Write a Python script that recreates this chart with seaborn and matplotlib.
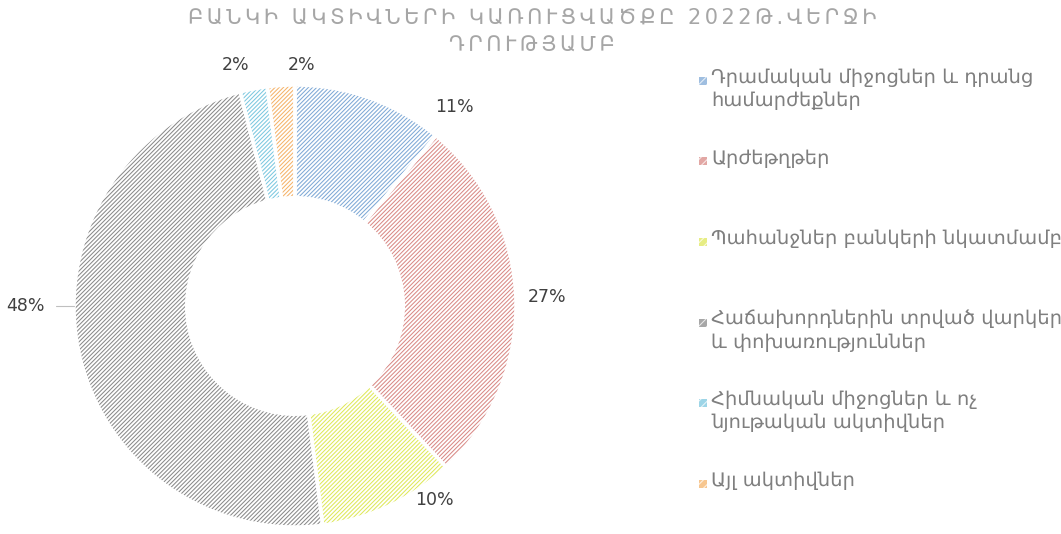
import matplotlib
matplotlib.use("Agg")
import matplotlib.pyplot as plt
import seaborn as sns
from matplotlib.patches import Rectangle

# Data
title = "ԲԱՆԿԻ ԱԿՏԻՎՆԵՐԻ ԿԱՌՈՒՑՎԱԾՔԸ 2022Թ.ՎԵՐՋԻ\nԴՐՈՒԹՅԱՄԲ"
categories = [
    "Դրամական միջոցներ և դրանց\nհամարժեքներ",
    "Արժեթղթեր",
    "Պահանջներ բանկերի նկատմամբ",
    "Հաճախորդներին տրված վարկեր\nև փոխառություններ",
    "Հիմնական միջոցներ և ոչ\nնյութական ակտիվներ",
    "Այլ ակտիվներ",
]
shares = [11, 27, 10, 48, 2, 2]
pct_labels = ["11%", "27%", "10%", "48%", "2%", "2%"]
colors = ["#7fa9d6", "#d98a86", "#dfe85a", "#8a8a8a", "#7cc8e0", "#f5b36a"]

sns.set_theme(style="white")
plt.rcParams["font.family"] = ["DejaVu Sans"]
plt.rcParams["hatch.linewidth"] = 0.75

fig = plt.figure(figsize=(10.61, 5.34), dpi=100)
W, H = 1061, 534

# pie centre / radius in pixels
cx, cy, R = 295, 306, 221
span = 1.35
side = 2 * span * R
ax = fig.add_axes([(cx - side / 2) / W, (H - cy - side / 2) / H, side / W, side / H])

wedges, _ = ax.pie(shares, startangle=90, counterclock=False, radius=1,
                   colors=colors, wedgeprops=dict(width=0.51, linewidth=0))
for w, c in zip(wedges, colors):
    w.set_facecolor("white")
    w.set_edgecolor(c)
    w.set_hatch("////////")
    w.set_linewidth(0)

# white separators between slices
sep, _ = ax.pie(shares, startangle=90, counterclock=False, radius=1,
                wedgeprops=dict(width=0.51, fill=False, edgecolor="white", linewidth=2.5))
ax.set_xlim(-span, span)
ax.set_ylim(-span, span)
ax.set_aspect("equal")
ax.axis("off")

# percent labels (placed like the Excel best-fit labels)
label_pos = [(0.72, 0.90), (1.14, 0.04), (0.63, -0.88), (-1.22, 0.0), (-0.27, 1.09), (0.03, 1.09)]
for txt, (x, y) in zip(pct_labels, label_pos):
    ax.text(x, y, txt, ha="center", va="center", fontsize=12.5, color="#404040")
ax.plot([-1.08, -1.0], [0.0, 0.0], color="#bfbfbf", lw=0.8)

# title, letter-spaced like the original
spaced = "\n".join("\u2006".join(line) for line in title.split("\n"))
fig.text(532 / W, 1 - 8 / H, spaced, ha="center", va="top", fontsize=15,
         color="#a6a6a6", linespacing=1.5)

# legend drawn by hand, evenly spaced like the original
for i, (lab, c) in enumerate(zip(categories, colors)):
    ytop = 68 + 80.5 * i
    fig.patches.append(Rectangle((699 / W, 1 - (ytop + 17) / H), 8 / W, 8 / H,
                                 transform=fig.transFigure, facecolor=c, alpha=0.75,
                                 edgecolor="white", hatch="////", linewidth=0))
    fig.text(711 / W, 1 - ytop / H, lab, ha="left", va="top", fontsize=14,
             color="#7f7f7f", linespacing=1.3)

fig.savefig("out.png", dpi=100)
